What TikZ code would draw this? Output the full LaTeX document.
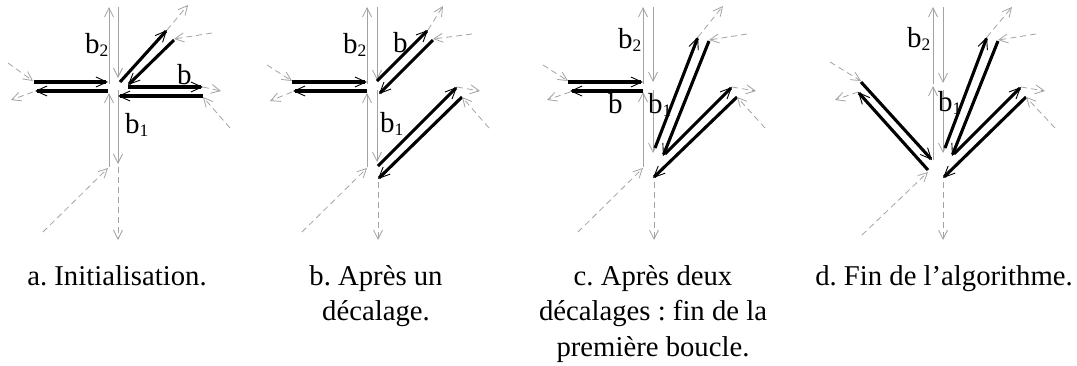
\documentclass[tikz,border=0pt]{standalone}
\usepackage{fontspec}
\setmainfont{Liberation Serif}
\usetikzlibrary{arrows.meta}
\frenchspacing
\newcommand\lab[1]{b\raisebox{-3pt}{\fontsize{17.5}{17.5}\selectfont #1}}
\tikzset{
  he/.style={black, line width=3.1pt, -{Straight Barb[length=11pt,width=10pt,line width'=0.9pt]}},
  ghe/.style={black!36, line width=0.8pt, -{Straight Barb[length=9pt,width=9pt,line width'=0.8pt]}},
  dhe/.style={ghe, dash pattern=on 6pt off 4pt},
  lbl/.style={anchor=base west, inner sep=0pt, font=\fontsize{29}{34}\selectfont},
  captext/.style={anchor=base, inner sep=0pt, font=\fontsize{28.7}{34}\selectfont}
}
\begin{document}
\begin{tikzpicture}[x=1pt,y=-1pt]
\path[use as bounding box] (0,0) rectangle (1077,365);
% ---------------- panel a
\draw[ghe] (109,84) -- (109,7);
\draw[ghe] (109,167) -- (109,93);
\draw[ghe] (118,7) -- (118,78);
\draw[ghe] (118,90) -- (118,164);
\draw[he] (34,82) -- (108,82);
\draw[he] (108,91) -- (35,91);
\draw[he] (120,82) -- (167,30);
\draw[he] (174,40) -- (128,85);
\draw[he] (128,87) -- (203,87);
\draw[he] (203,96) -- (118,96);
\draw[dhe] (8,63) -- (33,81);
\draw[dhe] (33,92) -- (11,100);
\draw[dhe] (167,30) -- (188,5);
\draw[dhe] (212,33) -- (174,39);
\draw[dhe] (203,87) -- (221,91);
\draw[dhe] (230,128) -- (203,97);
\draw[dhe] (43,232) -- (108,168);
\draw[dhe] (118,167) -- (118,240);
\node[lbl] (a2) at (85,53) {\lab{2}};
\node[lbl] (a1) at (125,133) {\lab{1}};
\node[lbl] (ab) at (177,84) {b};
% ---------------- panel b
\draw[ghe] (367,84) -- (367,7);
\draw[ghe] (367,167) -- (367,93);
\draw[ghe] (377,7) -- (377,80);
\draw[ghe] (377,90) -- (377,162);
\draw[he] (292,82) -- (367,82);
\draw[he] (367,91) -- (293,91);
\draw[he] (377,81) -- (428,30);
\draw[he] (433,40) -- (379,94);
\draw[he] (378,166) -- (457,87);
\draw[he] (462,97) -- (378,179);
\draw[dhe] (267,65) -- (292,81);
\draw[dhe] (292,92) -- (270,101);
\draw[dhe] (428,30) -- (443,6);
\draw[dhe] (472,34) -- (433,39);
\draw[dhe] (457,87) -- (480,91);
\draw[dhe] (489,128) -- (462,97);
\draw[dhe] (302,232) -- (367,168);
\draw[dhe] (378,182) -- (378,240);
\node[lbl] (b2) at (343,53) {\lab{2}};
\node[lbl] (bb) at (393,52) {b};
\node[lbl] (b1) at (380,132) {\lab{1}};
% ---------------- panel c
\draw[ghe] (643,84) -- (643,7);
\draw[ghe] (643,167) -- (643,92);
\draw[ghe] (653,7) -- (653,82);
\draw[ghe] (653,90) -- (653,153);
\draw[he] (568,82) -- (643,82);
\draw[he] (643,91) -- (570,91);
\draw[he] (655,148) -- (698,37);
\draw[he] (709,41) -- (663,156);
\draw[he] (665,154) -- (732,87);
\draw[he] (737,97) -- (653,178);
\draw[dhe] (543,65) -- (568,81);
\draw[dhe] (570,92) -- (547,100);
\draw[dhe] (698,37) -- (723,6);
\draw[dhe] (747,34) -- (709,40);
\draw[dhe] (732,87) -- (756,91);
\draw[dhe] (765,128) -- (737,97);
\draw[dhe] (578,232) -- (643,168);
\draw[dhe] (654,182) -- (654,240);
\node[lbl] (c2) at (618,48) {\lab{2}};
\node[lbl] (c1) at (648,113) {\lab{1}};
\node[lbl] (cb) at (608,113) {b};
% ---------------- panel d
\draw[ghe] (933,84) -- (933,7);
\draw[ghe] (933,160) -- (933,86);
\draw[ghe] (943,7) -- (943,83);
\draw[ghe] (943,90) -- (943,153);
\draw[he] (861,82) -- (932,160);
\draw[he] (928,170) -- (858,92);
\draw[he] (945,148) -- (987,37);
\draw[he] (998,41) -- (952,156);
\draw[he] (954,154) -- (1021,87);
\draw[he] (1026,97) -- (943,178);
\draw[dhe] (830,62) -- (861,81);
\draw[dhe] (858,92) -- (835,100);
\draw[dhe] (987,37) -- (1012,7);
\draw[dhe] (1036,34) -- (998,40);
\draw[dhe] (1021,87) -- (1045,91);
\draw[dhe] (1055,128) -- (1026,97);
\draw[dhe] (862,235) -- (928,172);
\draw[dhe] (943,182) -- (943,240);
\node[lbl] (d2) at (907,47) {\lab{2}};
\node[lbl] (d1) at (938,111) {\lab{1}};
% ---------------- captions
\node[captext] (capa) at (117,285) {a. Initialisation.};
\node[captext] (capb1) at (376,285) {b. Après un};
\node[captext] (capb2) at (376,320.5) {décalage.};
\node[captext] (capc1) at (653,285) {c. Après deux};
\node[captext] (capc2) at (653,320.5) {décalages : fin de la};
\node[captext] (capc3) at (653,356) {première boucle.};
\node[captext] (capd) at (944,285) {d. Fin de l’algorithme.};
\end{tikzpicture}
\end{document}
